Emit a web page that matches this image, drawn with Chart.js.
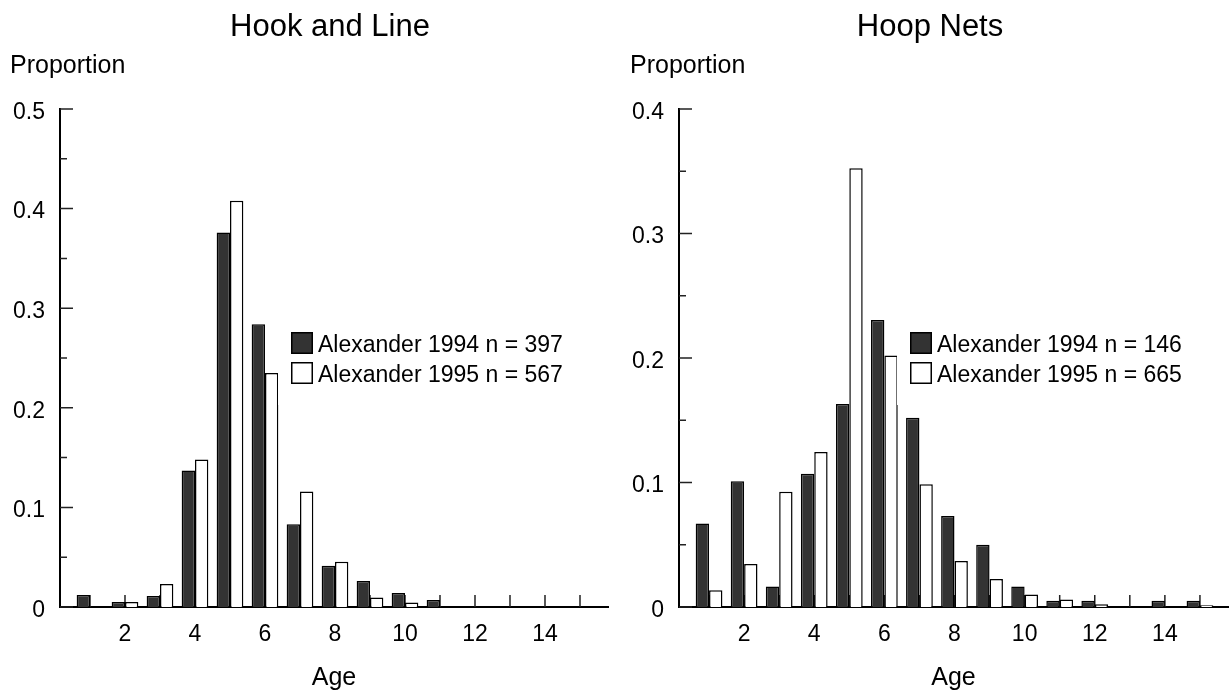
<!DOCTYPE html>
<html>
<head>
<meta charset="utf-8">
<script src="https://cdn.jsdelivr.net/npm/chart.js@4.4.1/dist/chart.umd.min.js"></script>
<style>
  html, body { margin: 0; padding: 0; background: #fff; }
  .panel { position: absolute; top: 0; }
</style>
</head>
<body>
<div class="panel" style="left:0"><canvas id="hookChart" width="615" height="694"></canvas></div>
<div class="panel" style="left:615px"><canvas id="hoopChart" width="616" height="694"></canvas></div>
<script>
const FONT = '"Liberation Sans", Arial, sans-serif';

// data
const ages = [1, 2, 3, 4, 5, 6, 7, 8, 9, 10, 11, 12, 13, 14, 15];
const hookLine1994 = [0.012, 0.005, 0.011, 0.137, 0.376, 0.284, 0.083, 0.0415, 0.026, 0.014, 0.007, 0, 0, 0, 0];
const hookLine1995 = [0, 0.005, 0.023, 0.148, 0.408, 0.235, 0.116, 0.0455, 0.0095, 0.0045, 0, 0, 0, 0, 0];
const hoopNets1994 = [0.067, 0.101, 0.0165, 0.107, 0.163, 0.2305, 0.152, 0.073, 0.050, 0.0165, 0.005, 0.005, 0, 0.005, 0.005];
const hoopNets1995 = [0.0135, 0.0345, 0.0925, 0.1245, 0.3525, 0.202, 0.0985, 0.037, 0.0225, 0.010, 0.006, 0.0022, 0, 0, 0.0015];

const xTickLabels = [2, 4, 6, 8, 10, 12, 14];
const hookYTicks = [0, 0.1, 0.2, 0.3, 0.4, 0.5];
const hookYMinor = [0.05, 0.15, 0.25, 0.35, 0.45];
const hoopYTicks = [0, 0.1, 0.2, 0.3, 0.4];
const hoopYMinor = [0.05, 0.15, 0.25, 0.35];

// draws inward ticks, the in-plot legend and the panel texts
const panelDecor = {
  id: 'panelDecor',
  beforeDatasetsDraw(chart, args, opts) {
    const {ctx, chartArea: a, scales: {x, y}} = chart;
    ctx.save();
    ctx.strokeStyle = '#222';
    ctx.lineWidth = 1.5;
    ctx.beginPath();
    ages.forEach(v => {
      const px = x.getPixelForValue(v);
      ctx.moveTo(px, a.bottom);
      ctx.lineTo(px, a.bottom - 12);
    });
    opts.yMajor.forEach(v => {
      const py = y.getPixelForValue(v);
      ctx.moveTo(a.left, py);
      ctx.lineTo(a.left + 13, py);
    });
    opts.yMinor.forEach(v => {
      const py = y.getPixelForValue(v);
      ctx.moveTo(a.left, py);
      ctx.lineTo(a.left + 7, py);
    });
    ctx.stroke();
    ctx.restore();
  },
  afterDatasetsDraw(chart, args, opts) {
    const {ctx, chartArea: a} = chart;
    const sx = a.left + 231, sy = a.top + 223;
    ctx.save();
    ctx.fillStyle = '#fff';
    ctx.fillRect(sx - 13, sy - 6, 290, 79);
    ctx.font = '23px ' + FONT;
    ctx.textBaseline = 'middle';
    chart.data.datasets.forEach((ds, i) => {
      const top = sy + i * 30;
      ctx.fillStyle = '#000';
      ctx.fillRect(sx, top, 22, 22);
      ctx.fillStyle = ds.backgroundColor;
      ctx.fillRect(sx + 1.5, top + 1.5, 19, 19);
      ctx.fillStyle = '#000';
      ctx.fillText(ds.label, sx + 27, top + 13.5);
    });
    ctx.restore();
  },
  afterDraw(chart, args, opts) {
    const {ctx} = chart;
    ctx.save();
    ctx.fillStyle = '#000';
    ctx.textBaseline = 'alphabetic';
    ctx.font = '31px ' + FONT;
    ctx.textAlign = 'center';
    ctx.fillText(opts.title, opts.titleX, 36);
    ctx.font = '25px ' + FONT;
    ctx.textAlign = 'left';
    ctx.fillText('Proportion', opts.labelX, 73);
    ctx.restore();
  }
};

function makeChart(id, title, titleX, labelX, d94, d95, n94, n95, yMax, yTicks, yMinor, yWidth, padRight) {
  return new Chart(document.getElementById(id), {
    type: 'bar',
    data: {
      datasets: [
        {
          label: 'Alexander 1994 n = ' + n94,
          data: ages.map((a, i) => ({x: a, y: d94[i]})),
          backgroundColor: '#333333',
          borderColor: '#000',
          borderWidth: 1.5
        },
        {
          label: 'Alexander 1995 n = ' + n95,
          data: ages.map((a, i) => ({x: a, y: d95[i]})),
          backgroundColor: '#ffffff',
          borderColor: '#000',
          borderWidth: 1.5
        }
      ]
    },
    options: {
      responsive: false,
      animation: false,
      devicePixelRatio: 1,
      categoryPercentage: 0.763,
      barPercentage: 1.0,
      layout: { padding: { top: 109, right: padRight, bottom: 0, left: 0 } },
      plugins: {
        legend: { display: false },
        tooltip: { enabled: false },
        panelDecor: { title, titleX, labelX, yMajor: yTicks, yMinor }
      },
      scales: {
        x: {
          type: 'linear',
          offset: false,
          min: 0.143,
          max: 15.8,
          grid: { display: false, drawTicks: false },
          border: { display: true, color: '#000', width: 2 },
          afterBuildTicks: s => { s.ticks = xTickLabels.map(v => ({value: v})); },
          afterFit: s => { s.height = 87; },
          ticks: {
            autoSkip: false, maxRotation: 0, padding: 14,
            color: '#000', font: { family: FONT, size: 23 }
          },
          title: {
            display: true, text: 'Age', color: '#000',
            font: { family: FONT, size: 25 },
            padding: { top: 0, bottom: 1 }
          }
        },
        y: {
          min: 0,
          max: yMax,
          grid: { display: false, drawTicks: false },
          border: { display: true, color: '#000', width: 2 },
          afterBuildTicks: s => { s.ticks = yTicks.map(v => ({value: v})); },
          afterFit: s => { s.width = yWidth; },
          ticks: {
            autoSkip: false, padding: 15, labelOffset: 3.5,
            color: '#000', font: { family: FONT, size: 23 },
            callback: v => v === 0 ? '0' : v.toFixed(1)
          }
        }
      }
    },
    plugins: [panelDecor]
  });
}

makeChart('hookChart', 'Hook and Line', 330, 10, hookLine1994, hookLine1995, 397, 567, 0.5, hookYTicks, hookYMinor, 60, 7);
makeChart('hoopChart', 'Hoop Nets', 315, 15, hoopNets1994, hoopNets1995, 146, 665, 0.4, hoopYTicks, hoopYMinor, 64, 3);
</script>
</body>
</html>
